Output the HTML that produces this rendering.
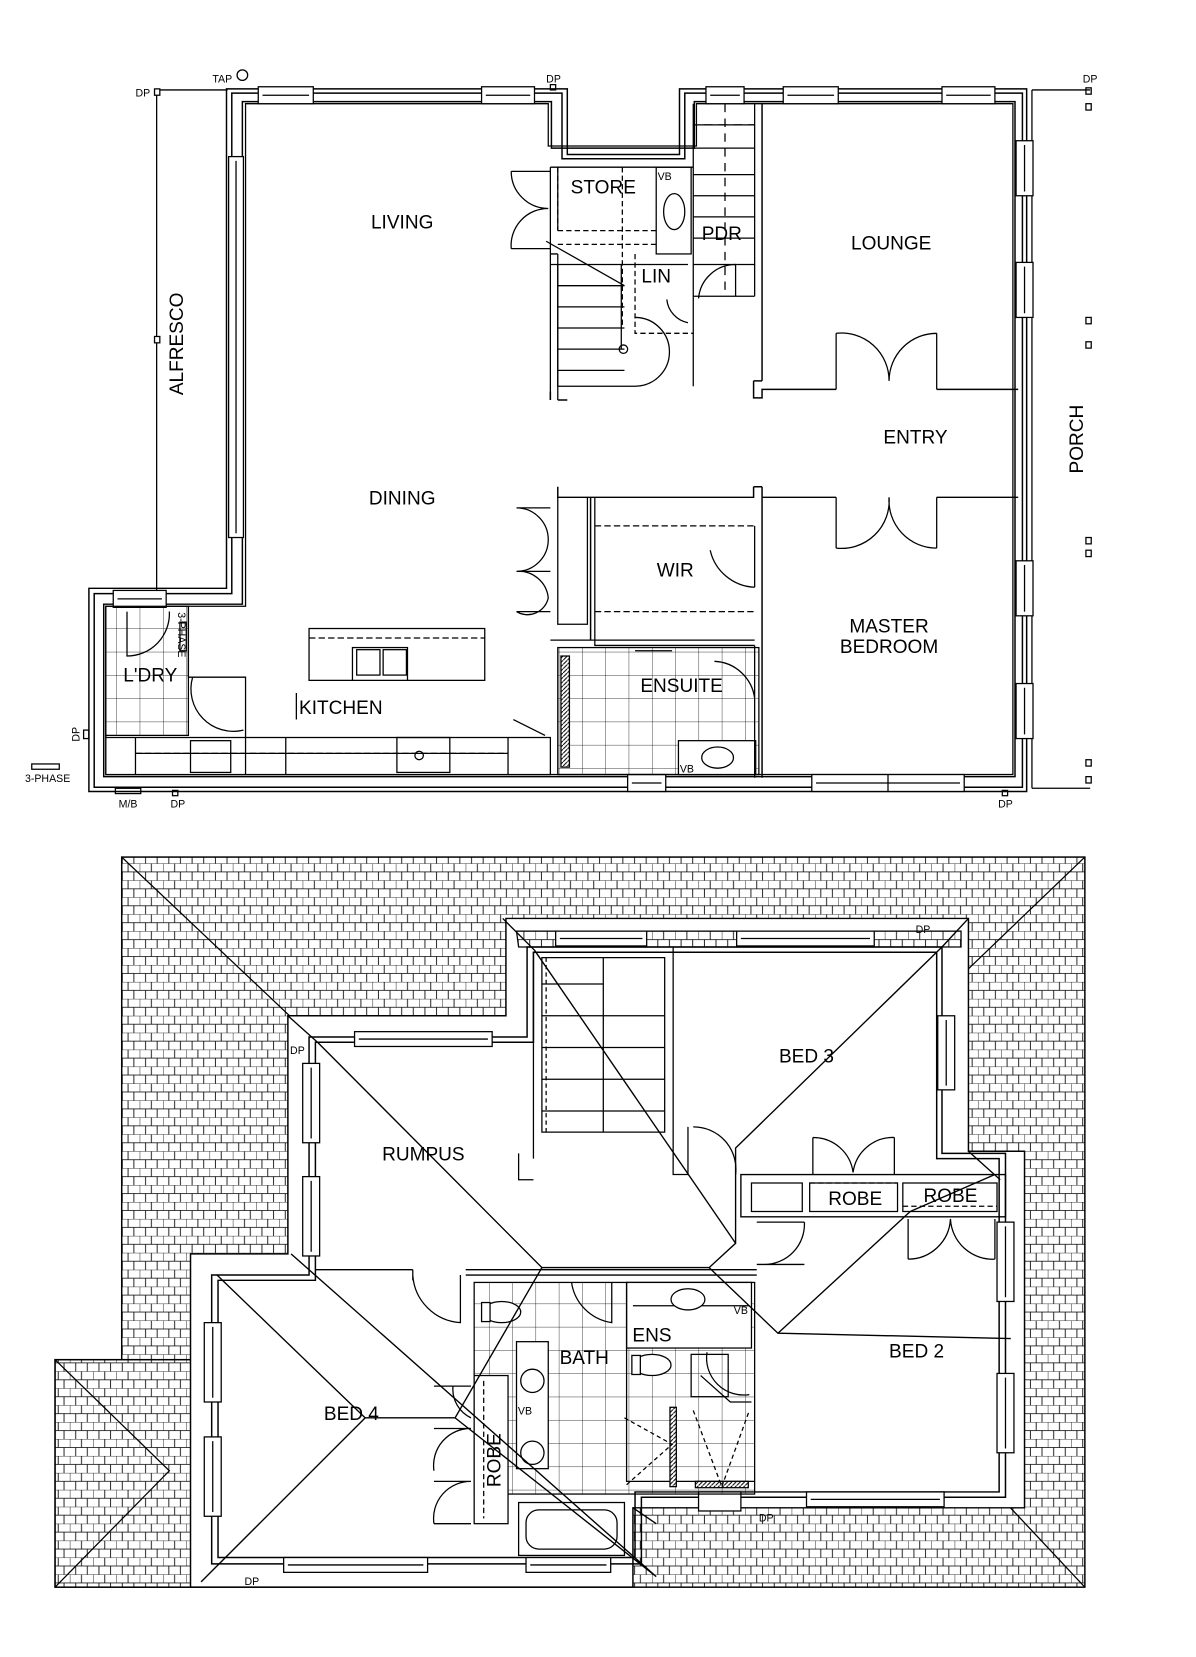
<!DOCTYPE html>
<html><head><meta charset="utf-8"><style>
html,body{margin:0;padding:0;background:#fff}
svg{display:block}
text{font-family:"Liberation Sans",sans-serif;fill:#000}
</style></head><body>
<svg width="1196" height="1657" viewBox="0 0 1130 1566" preserveAspectRatio="none" xmlns="http://www.w3.org/2000/svg">
<defs>
<pattern id="tile" width="22" height="16" patternUnits="userSpaceOnUse">
<rect width="22" height="16" fill="#fff"/>
<path d="M0 0H22M0 8H22M0 0V8M11 0V8M5.5 8V16M16.5 8V16" stroke="#000" stroke-width="0.8" fill="none"/>
</pattern>
<pattern id="grid" width="22" height="22" patternUnits="userSpaceOnUse">
<path d="M0 0H22M0 0V22" stroke="#000" stroke-width="0.7" fill="none"/>
</pattern>
<pattern id="hatch" width="4" height="4" patternUnits="userSpaceOnUse">
<rect width="4" height="4" fill="#fff"/><path d="M0 4L4 0" stroke="#000" stroke-width="1"/>
</pattern>
</defs>
<g fill="none" stroke="#000" stroke-width="1.2">
<!-- ================= GROUND FLOOR ================= -->
<!-- alfresco -->
<path d="M148 85V562M148 85H215"/>
<rect x="146" y="84" width="5" height="6" fill="#fff"/>
<rect x="146" y="318" width="5" height="6" fill="#fff"/>
<!-- porch -->
<path d="M975 85V745M975 85H1030M975 745H1030"/>
<rect x="1026" y="83" width="5" height="6"/><rect x="1026" y="98" width="5" height="6"/>
<rect x="1026" y="300" width="5" height="6"/><rect x="1026" y="323" width="5" height="6"/>
<rect x="1026" y="508" width="5" height="6"/><rect x="1026" y="520" width="5" height="6"/>
<rect x="1026" y="718" width="5" height="6"/><rect x="1026" y="734" width="5" height="6"/>
<!-- outer walls -->
<path stroke-width="1.4" d="M214 84H536V146H642V84H970V748H84V556H214Z"/>
<path stroke-width="1.4" d="M219 88H531V150H647V88H966V744H89V561H219Z"/>
<path stroke-width="1.4" d="M229 96H521V140H656V96H959V734H98V571H229Z"/>
<path d="M232 98H518V138H658V98H957V732H100V573H232Z"/>
<!-- windows -->
<g fill="#fff">
<rect x="244" y="82" width="52" height="16"/><rect x="455" y="82" width="50" height="16"/>
<rect x="667" y="82" width="36" height="16"/><rect x="740" y="82" width="52" height="16"/><rect x="890" y="82" width="50" height="16"/>
<rect x="960" y="133" width="16" height="52"/><rect x="960" y="248" width="16" height="52"/>
<rect x="960" y="530" width="16" height="52"/><rect x="960" y="646" width="16" height="52"/>
<rect x="593" y="732" width="36" height="16"/><rect x="767" y="732" width="144" height="16"/>
<rect x="107" y="558" width="50" height="16"/>
<rect x="216" y="148" width="14" height="360"/>
</g>
<path d="M248 90H292M459 90H501M671 90H699M744 90H788M894 90H936M968 137V181M968 252V296M968 534V578M968 650V694M597 740H625M771 740H907M839 732V748M111 566H153M223 152V504"/>
<!-- store/PDR block -->
<path d="M520 158H655M520 158V378M527 158V218M520 240H527M527 240V378"/>
<path stroke-dasharray="5,3" d="M527 158V218M588 158V310M527 218H620M527 231H620M600 240V315H655"/>
<rect x="620" y="158" width="33" height="82"/>
<ellipse cx="637" cy="200" rx="10" ry="17"/>
<path d="M655 98V365M713 98V280M655 280H713M655 118H713M655 140H713M655 165H713M655 185H713M655 205H713M655 225H713M655 250H713"/>
<path stroke-dasharray="8,6" d="M665 118H713M685 98V280"/>
<path d="M520 250H650M527 250V365M527 270H590M527 290H590M527 310H590M527 330H590M527 350H590"/>
<path d="M516 228L590 270M587 250V330"/>
<circle cx="589" cy="330" r="4"/>
<path d="M600 300A30 30 0 0 1 600 365H527"/>
<path d="M660 282A35 35 0 0 1 695 250V280"/>
<path d="M630 283A25 25 0 0 0 650 305"/>
<!-- doors living -->
<path d="M483 162H520M483 235H520M483 162A35 35 0 0 0 518 197A35 35 0 0 0 483 235"/>
<!-- lounge walls -->
<path stroke-width="1.4" d="M720 98V360M712 360V376H720V368H790M885 368H962M712 360H720"/>
<path d="M790 315V368M885 315V368M790 315A45 45 0 0 1 840 360A45 45 0 0 1 885 315"/>
<path stroke-width="1.4" d="M520 370V378M527 378H536M720 460V470M712 460H720"/>
<!-- entry / master -->
<path stroke-width="1.4" d="M527 460V470H558V605M558 470H712V460M720 470H790M885 470H962M720 470V735"/>
<path d="M790 470V518M885 470V518M790 518A45 45 0 0 0 840 470A45 45 0 0 0 885 518"/>
<path d="M562 497H713M562 578H713" stroke-dasharray="6,3"/>
<path d="M562 470V610H713M713 497V555"/>
<path d="M671 520A45 45 0 0 0 713 555"/>
<path d="M527 470V590H555V470M520 605H713"/>
<path d="M488 480H520M488 540H520M488 578H520M488 480A30 30 0 0 1 518 510A30 30 0 0 1 488 540M488 540A28 28 0 0 1 518 565A20 20 0 0 1 488 578"/>
<!-- ensuite -->
<rect x="527" y="612" width="190" height="120" fill="url(#grid)"/>
<rect x="530" y="620" width="8" height="105" fill="url(#hatch)"/>
<rect x="641" y="700" width="73" height="32" fill="#fff"/>
<ellipse cx="678" cy="716" rx="15" ry="10" fill="#fff"/>
<path d="M600 615H635"/>
<path d="M713 610V735M713 660A40 40 0 0 0 675 625"/>
<!-- kitchen -->
<rect x="292" y="594" width="166" height="49" fill="#fff"/>
<path d="M292 603H458" stroke-dasharray="6,3"/>
<rect x="333" y="612" width="52" height="31" fill="#fff"/>
<rect x="337" y="614" width="22" height="24"/><rect x="362" y="614" width="22" height="24"/>
<path d="M280 655V680M485 680L515 695"/>
<rect x="100" y="697" width="420" height="35" fill="#fff"/>
<path d="M128 697V732M232 697V732M270 697V732M480 697V732M128 712H480" />
<path d="M128 712H480" stroke-dasharray="6,3" stroke="#000"/>
<rect x="180" y="700" width="38" height="30"/>
<rect x="375" y="697" width="50" height="33"/>
<circle cx="396" cy="714" r="4"/>
<!-- laundry -->
<rect x="100" y="573" width="78" height="122" fill="url(#grid)"/>
<path d="M178 573V640H232V697M100 573V697"/>
<path d="M160 578A40 40 0 0 1 120 620V578"/>
<path d="M170 588V615H176V588Z"/>
<path d="M182 640A40 40 0 0 0 230 690"/>
<!-- small markers -->
<circle cx="229" cy="71" r="5"/>
<rect x="30" y="722" width="26" height="5"/>
<rect x="109" y="745" width="24" height="5"/>
<rect x="163" y="747" width="5" height="5"/>
<rect x="947" y="747" width="5" height="5"/>
<rect x="520" y="80" width="5" height="5"/>
<rect x="79" y="690" width="5" height="8"/>

<!-- ================= UPPER FLOOR ================= -->
<rect x="115" y="810" width="910" height="690" fill="url(#tile)" stroke-width="1.4"/>
<rect x="52" y="1285" width="130" height="215" fill="url(#tile)" stroke-width="1.4"/>
<path d="M182 1285H52V1500H182M52 1285L160 1390L52 1500M115 810L300 985M1025 810L900 930M1025 1500L950 1420M182 1500L205 1478"/>
<path fill="#fff" stroke-width="1.4" d="M478 868H915V1088H968V1425H598V1500H180V1185H272V960H478Z"/>
<path d="M488 880H908V895H490Z" fill="url(#tile)"/>
<!-- outer walls upper -->
<path stroke-width="1.4" d="M498 895H890V1090H950V1415H606V1478H200V1205H292V980H498Z"/>
<path stroke-width="1.4" d="M504 900H885V1095H944V1410H600V1472H206V1210H298V985H504Z"/>
<g fill="#fff">
<rect x="525" y="880" width="86" height="14"/><rect x="696" y="880" width="130" height="14"/>
<rect x="335" y="975" width="130" height="14"/>
<rect x="886" y="960" width="16" height="70"/>
<rect x="286" y="1005" width="16" height="75"/><rect x="286" y="1112" width="16" height="75"/>
<rect x="193" y="1250" width="16" height="75"/><rect x="193" y="1358" width="16" height="75"/>
<rect x="942" y="1155" width="16" height="75"/><rect x="942" y="1298" width="16" height="75"/>
<rect x="762" y="1410" width="130" height="14"/><rect x="660" y="1410" width="40" height="18"/>
<rect x="268" y="1472" width="136" height="14"/><rect x="497" y="1472" width="80" height="14"/>
</g>
<path d="M529 887H607M700 887H822M339 982H461M894 964V1026M294 1009V1076M294 1116V1183M201 1254V1321M201 1362V1429M950 1159V1226M950 1302V1369M766 1417H888M272 1479H400M501 1479H573"/>
<!-- stairs upper -->
<path d="M504 900V1095M512 905H628V1070H512Z"/>
<path d="M512 930H570M512 960H628M512 990H628M512 1020H628M512 1050H628M540 990H575"/>
<path d="M570 905V1070" />
<path stroke-dasharray="4,3" d="M516 905V1070"/>
<path d="M636 895V1110H650V1065M490 1090V1115H504"/>
<path d="M655 1065A40 40 0 0 1 695 1110"/>
<!-- robes -->
<path stroke-width="1.3" d="M700 1110H950V1150H700Z"/>
<path d="M765 1118H848V1145H765ZM853 1118H942V1145H853ZM710 1118H758V1145H710Z"/>
<path stroke-dasharray="5,3" d="M765 1118H848M853 1140H942"/>
<path d="M768 1075V1110M845 1075V1110M768 1075A38 38 0 0 1 806 1108A38 38 0 0 1 845 1075M858 1152V1190M940 1152V1190M858 1190A40 40 0 0 0 898 1152A40 40 0 0 0 940 1190"/>
<path d="M715 1155H760M715 1195H760M760 1155A38 38 0 0 1 722 1195"/>
<!-- rumpus bottom wall -->
<path stroke-width="1.3" d="M298 1200H390M440 1200H715M440 1205H715"/>
<path d="M390 1200V1210M390 1205A48 48 0 0 0 435 1250V1205"/>
<!-- bath/ens -->
<rect x="448" y="1212" width="265" height="200" fill="url(#grid)"/>
<rect x="592" y="1212" width="118" height="62" fill="#fff"/>
<path d="M592 1212V1400H713M598 1234H708"/>
<ellipse cx="650" cy="1228" rx="16" ry="10" fill="#fff"/>
<ellipse cx="474" cy="1240" rx="18" ry="10" fill="#fff"/><rect x="455" y="1231" width="8" height="18" fill="#fff"/>
<ellipse cx="616" cy="1290" rx="18" ry="10" fill="#fff"/><rect x="597" y="1281" width="8" height="18" fill="#fff"/>
<rect x="488" y="1268" width="30" height="120" fill="#fff"/>
<circle cx="503" cy="1305" r="11"/><circle cx="503" cy="1373" r="11"/>
<rect x="448" y="1300" width="32" height="140" fill="#fff"/>
<path stroke-dasharray="5,3" d="M457 1305V1435"/>
<rect x="490" y="1420" width="100" height="50" fill="#fff"/>
<rect x="497" y="1427" width="86" height="37" rx="12"/>
<rect x="633" y="1330" width="6" height="75" fill="url(#hatch)"/>
<rect x="657" y="1400" width="50" height="6" fill="url(#hatch)"/>
<path stroke-dasharray="4,3" d="M590 1340L635 1365L590 1405M655 1333L682 1405L708 1333"/>
<rect x="653" y="1280" width="35" height="40"/>
<path d="M662 1300L690 1325H710"/>
<path d="M540 1212A45 45 0 0 0 578 1250V1212"/>
<path d="M668 1278A35 35 0 0 0 708 1318"/>
<!-- bed4 doors -->
<path d="M410 1310H445M410 1350H445M410 1400H445M445 1350A35 35 0 0 0 410 1390M410 1440H445M445 1400A35 35 0 0 0 410 1440M428 1310A30 30 0 0 0 445 1340"/>
<!-- roof hip lines -->
<path stroke-width="1.3" d="M300 985L512 1198L670 1198L695 1175V1085L890 895M505 898L695 1175M475 868L505 898M915 868L890 895"/>
<path stroke-width="1.3" d="M670 1198L735 1260L955 1265M735 1260L860 1145M940 1110L860 1145M915 1088L945 1115"/>
<path stroke-width="1.3" d="M205 1205L345 1340L430 1340L512 1198M345 1340L190 1495M275 1185L620 1490M430 1340L620 1490M598 1425L620 1440"/>
<path stroke-width="1.3" d="M272 960L300 985"/>
</g>
<!-- labels -->
<g font-size="18" text-anchor="middle">
<text x="380" y="216">LIVING</text>
<text x="570" y="183">STORE</text>
<text x="682" y="227">PDR</text>
<text x="620" y="267">LIN</text>
<text x="842" y="236">LOUNGE</text>
<text x="865" y="419">ENTRY</text>
<text x="380" y="477">DINING</text>
<text x="638" y="545">WIR</text>
<text x="840" y="598">MASTER</text>
<text x="840" y="617">BEDROOM</text>
<text x="644" y="654">ENSUITE</text>
<text x="322" y="675">KITCHEN</text>
<text x="142" y="644">L'DRY</text>
<text x="400" y="1097">RUMPUS</text>
<text x="762" y="1004">BED 3</text>
<text x="808" y="1139">ROBE</text>
<text x="898" y="1136">ROBE</text>
<text x="866" y="1283">BED 2</text>
<text x="616" y="1268">ENS</text>
<text x="552" y="1289">BATH</text>
<text x="332" y="1342">BED 4</text>
<text transform="translate(173,325) rotate(-90)">ALFRESCO</text>
<text transform="translate(1023,415) rotate(-90)">PORCH</text>
<text transform="translate(473,1380) rotate(-90)">ROBE</text>
</g>
<g font-size="10" text-anchor="middle">
<text x="210" y="78">TAP</text>
<text x="523" y="78">DP</text>
<text x="135" y="91">DP</text>
<text x="1030" y="78">DP</text>
<text x="45" y="739">3-PHASE</text>
<text x="121" y="763">M/B</text>
<text x="168" y="763">DP</text>
<text x="950" y="763">DP</text>
<text x="628" y="170">VB</text>
<text x="649" y="730">VB</text>
<text x="700" y="1242">VB</text>
<text x="496" y="1337">VB</text>
<text x="872" y="882">DP</text>
<text x="281" y="996">DP</text>
<text x="724" y="1438">DP</text>
<text x="238" y="1498">DP</text>
<text transform="translate(75,694) rotate(-90)">DP</text>
<text transform="translate(168,600) rotate(90)">3-PHASE</text>
</g>
</svg>
</body></html>
